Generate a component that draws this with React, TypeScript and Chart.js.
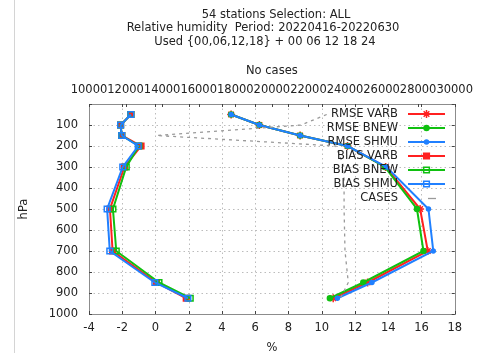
import React, { useEffect, useRef } from 'react';
import { Chart, registerables } from 'chart.js';
import { drawPoint } from 'chart.js/helpers';

Chart.register(...registerables);

// ---------- data ----------
const levels = [50, 100, 150, 200, 300, 500, 700, 850, 925];

const rmseVarb = [4.55, 6.25, 8.7, 11.55, 13.85, 15.92, 16.38, 12.76, 10.69];
const rmseBnew = [4.55, 6.25, 8.7, 11.55, 13.8, 15.73, 16.12, 12.5, 10.49];
const rmseShmu = [4.55, 6.25, 8.7, 11.55, 13.9, 16.42, 16.71, 13.02, 10.94];

const biasVarb = [-1.48, -2.1, -2.03, -0.87, -1.87, -2.74, -2.58, 0.06, 1.85];
const biasBnew = [-1.48, -2.1, -2.03, -1.0, -1.76, -2.56, -2.36, 0.21, 2.09];
const biasShmu = [-1.48, -2.1, -2.03, -1.04, -1.97, -2.91, -2.75, -0.04, 1.95];

const casesCount = [23000, 21600, 13700, 23500, 23950, 23950, 24000, 24180, 23750];

const titleLines = [
  '54 stations Selection: ALL',
  'Relative humidity  Period: 20220416-20220630',
  'Used {00,06,12,18} + 00 06 12 18 24',
];
const seriesNames = ['RMSE VARB', 'RMSE BNEW', 'RMSE SHMU', 'BIAS VARB', 'BIAS BNEW', 'BIAS SHMU', 'CASES'];

// ---------- styles ----------
const FONT_FAMILY = '"DejaVu Sans", sans-serif';
const FONT = { family: FONT_FAMILY, size: 11.5 };
const TEXT = '#222222';
const RED = '#ff2020';
const GREEN = '#10c010';
const BLUE = '#2080ff';
const GRAY = '#9a9a9a';

const pts = (vals: number[]) => vals.map((v, i) => ({ x: v, y: levels[i] }));

function series(i: number, vals: number[], color: string, style: string, radius: number, filled: boolean) {
  return {
    label: seriesNames[i],
    data: pts(vals),
    borderColor: color,
    backgroundColor: filled ? color : 'rgba(255,255,255,0)',
    borderWidth: 2,
    pointStyle: style,
    pointRadius: radius,
    pointBorderWidth: 1.5,
    pointBorderColor: color,
    pointBackgroundColor: filled ? color : 'rgba(255,255,255,0)',
    showLine: true,
    xAxisID: 'x',
    yAxisID: 'y',
    order: 20 - i,
  };
}

const decor = {
  id: 'decor',
  beforeDatasetsDraw(chart: any) {
    const { ctx, chartArea: a, scales } = chart;
    ctx.save();
    ctx.strokeStyle = '#bcbcbc';
    ctx.lineWidth = 1;
    ctx.setLineDash([1.5, 3]);
    scales.x.ticks.forEach((t: any) => {
      const px = Math.round(scales.x.getPixelForValue(t.value)) + 0.5;
      if (px > a.left + 2 && px < a.right - 2) {
        ctx.beginPath();
        ctx.moveTo(px, a.top);
        ctx.lineTo(px, a.bottom);
        ctx.stroke();
      }
    });
    scales.y.ticks.forEach((t: any) => {
      const py = Math.round(scales.y.getPixelForValue(t.value)) + 0.5;
      if (py > a.top + 2 && py < a.bottom - 2) {
        ctx.beginPath();
        ctx.moveTo(a.left, py);
        ctx.lineTo(a.right, py);
        ctx.stroke();
      }
    });
    ctx.restore();
  },
  afterDatasetsDraw(chart: any) {
    const { ctx, chartArea: a, scales } = chart;
    ctx.save();
    // frame
    ctx.strokeStyle = '#8c8c8c';
    ctx.lineWidth = 1;
    ctx.setLineDash([]);
    ctx.strokeRect(Math.round(a.left) + 0.5, Math.round(a.top) + 0.5, Math.round(a.right - a.left), Math.round(a.bottom - a.top));
    // inward tick marks
    ctx.strokeStyle = '#444';
    const tl = 3;
    scales.x.ticks.forEach((t: any) => {
      const px = Math.round(scales.x.getPixelForValue(t.value)) + 0.5;
      ctx.beginPath();
      ctx.moveTo(px, a.bottom); ctx.lineTo(px, a.bottom - tl);
      ctx.moveTo(px, a.top); ctx.lineTo(px, a.top + tl);
      ctx.stroke();
    });
    scales.x2.ticks.forEach((t: any) => {
      const px = Math.round(scales.x2.getPixelForValue(t.value)) + 0.5;
      ctx.beginPath();
      ctx.moveTo(px, a.top); ctx.lineTo(px, a.top + tl);
      ctx.stroke();
    });
    scales.y.ticks.forEach((t: any) => {
      const py = Math.round(scales.y.getPixelForValue(t.value)) + 0.5;
      ctx.beginPath();
      ctx.moveTo(a.left, py); ctx.lineTo(a.left + tl, py);
      ctx.moveTo(a.right, py); ctx.lineTo(a.right - tl, py);
      ctx.stroke();
    });
    // legend (inside, top right)
    ctx.font = `11.5px ${FONT_FAMILY}`;
    ctx.textAlign = 'right';
    ctx.textBaseline = 'middle';
    chart.data.datasets.forEach((ds: any, i: number) => {
      const y = 114 + 14 * i;
      ctx.fillStyle = TEXT;
      ctx.fillText(ds.label, 398, y);
      ctx.strokeStyle = ds.borderColor;
      if (ds.borderDash) {
        ctx.lineWidth = ds.borderWidth;
        ctx.setLineDash([]);
        ctx.beginPath();
        ctx.moveTo(428, y + 0.5); ctx.lineTo(436, y + 0.5);
        ctx.stroke();
        return;
      }
      ctx.lineWidth = 2;
      ctx.setLineDash([]);
      ctx.beginPath();
      ctx.moveTo(408, y); ctx.lineTo(445, y);
      ctx.stroke();
      ctx.fillStyle = ds.pointBackgroundColor;
      ctx.strokeStyle = ds.pointBorderColor;
      ctx.lineWidth = ds.pointBorderWidth;
      drawPoint(ctx, { pointStyle: ds.pointStyle, radius: ds.pointRadius, rotation: 0, borderWidth: ds.pointBorderWidth }, 426.5, y);
    });
    ctx.restore();
  },
  afterDraw(chart: any) {
    const { ctx } = chart;
    ctx.save();
    ctx.font = `11.5px ${FONT_FAMILY}`;
    ctx.fillStyle = TEXT;
    ctx.textAlign = 'center';
    ctx.textBaseline = 'middle';
    const cx = [276, 263, 265];
    titleLines.forEach((t, i) => ctx.fillText(t, cx[i], 15 + 13.4 * i));
    // faint page edge line
    ctx.strokeStyle = '#d4d4d4';
    ctx.lineWidth = 1;
    ctx.beginPath();
    ctx.moveTo(14.5, 0); ctx.lineTo(14.5, 353);
    ctx.stroke();
    ctx.restore();
  },
};

export default function App() {
  const ref = useRef<HTMLCanvasElement>(null);
  useEffect(() => {
    document.body.style.margin = '0';
    Chart.defaults.font.family = FONT_FAMILY;
    Chart.defaults.color = TEXT;
    const datasets: any[] = [
      series(0, rmseVarb, RED, 'star', 4, true),
      series(1, rmseBnew, GREEN, 'circle', 2.5, true),
      series(2, rmseShmu, BLUE, 'circle', 2, true),
      series(3, biasVarb, RED, 'rect', 4, true),
      series(4, biasBnew, GREEN, 'rect', 4, false),
      series(5, biasShmu, BLUE, 'rect', 4, false),
      {
        label: seriesNames[6],
        data: casesCount.map((v, i) => ({ x: v, y: levels[i] })),
        borderColor: GRAY,
        backgroundColor: GRAY,
        borderWidth: 1.3,
        borderDash: [3, 4],
        pointRadius: 0,
        showLine: true,
        xAxisID: 'x2',
        yAxisID: 'y',
        order: 1,
      },
    ];
    const chart = new Chart(ref.current!, {
      type: 'scatter',
      data: { datasets },
      plugins: [decor],
      options: {
        responsive: false,
        animation: false,
        devicePixelRatio: 1,
        layout: { padding: { top: 50, right: 20, bottom: 0, left: 0 } },
        plugins: { legend: { display: false }, tooltip: { enabled: false }, title: { display: false } },
        scales: {
          x: {
            type: 'linear',
            position: 'bottom',
            min: -4,
            max: 18,
            ticks: { stepSize: 2, padding: 7, font: FONT, color: TEXT, autoSkip: false, maxRotation: 0, minRotation: 0 },
            grid: { display: false, drawTicks: false },
            border: { display: false },
            title: { display: true, text: '%', font: FONT, color: TEXT, padding: { top: 0, bottom: -2 } },
            afterFit: (s: any) => { s.height = 39; },
          },
          x2: {
            type: 'linear',
            position: 'top',
            min: 10000,
            max: 30000,
            ticks: {
              stepSize: 2000, padding: 7, font: FONT, color: TEXT, autoSkip: false, maxRotation: 0, minRotation: 0,
              callback: (v: any) => String(v),
            },
            grid: { display: false, drawTicks: false },
            border: { display: false },
            title: { display: true, text: 'No cases', font: FONT, color: TEXT, padding: { top: 14, bottom: 0 } },
            afterFit: (s: any) => { s.height = 54; },
          },
          y: {
            type: 'linear',
            position: 'left',
            reverse: true,
            min: 0,
            max: 1000,
            ticks: {
              stepSize: 100, padding: 11, font: FONT, color: TEXT,
              callback: (v: any) => (v === 0 ? '' : String(v)),
            },
            grid: { display: false, drawTicks: false },
            border: { display: false },
            title: { display: true, text: 'hPa', font: FONT, color: TEXT, padding: { top: 17, bottom: 0 } },
            afterFit: (s: any) => { s.width = 89; },
          },
        },
      } as any,
    });
    return () => chart.destroy();
  }, []);
  return (
    <div style={{ width: 480, height: 353 }}>
      <canvas ref={ref} width={480} height={353} style={{ display: 'block' }} />
    </div>
  );
}
